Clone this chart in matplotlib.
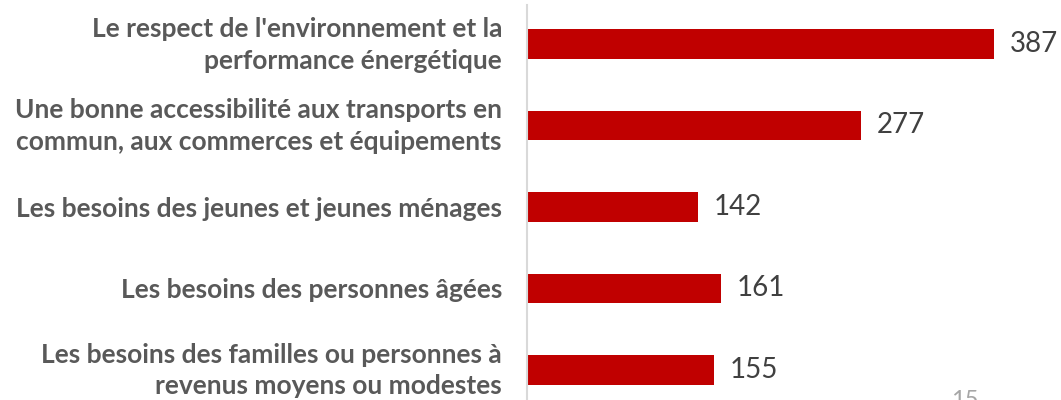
import matplotlib.pyplot as plt
from matplotlib.transforms import ScaledTranslation

categories = [
    "Le respect de l'environnement et la\nperformance énergétique",
    "Une bonne accessibilité aux transports en\ncommun, aux commerces et équipements",
    "Les besoins des jeunes et jeunes ménages",
    "Les besoins des personnes âgées",
    "Les besoins des familles ou personnes à\nrevenus moyens ou modestes",
]
values = [387, 277, 142, 161, 155]

plt.rcParams['font.family'] = ['Lato', 'DejaVu Sans']

fig = plt.figure(figsize=(10.61, 4.0), dpi=100)
ax = fig.add_axes([527 / 1061, 0.0, 534 / 1061, 395 / 400])

pos = list(range(len(values)))
ax.barh(pos, values, height=0.36, color='#C00000')

for p, v in zip(pos, values):
    ax.text(v + 13, p, str(v), va='center', ha='left', fontsize=20, color='#404040')

ax.set_xlim(0, 534 / 1.207)
ax.set_ylim(4.37, -0.478)

ax.set_yticks(pos)
ax.set_yticklabels(categories, fontsize=19, fontweight='bold', color='#595959',
                   linespacing=1.38)
ax.tick_params(axis='y', length=0, pad=18)
ax.set_xticks([])

# two-line labels sit a little high in the original
for lab in ax.get_yticklabels():
    if '\n' in lab.get_text():
        lab.set_transform(lab.get_transform() + ScaledTranslation(0, 5 / 100, fig.dpi_scale_trans))

for s in ['top', 'right', 'bottom']:
    ax.spines[s].set_visible(False)
ax.spines['left'].set_color('#D9D9D9')
ax.spines['left'].set_linewidth(1.5)

# page number, cut off at the bottom edge
fig.text(965 / 1061, 10 / 400, "15", ha='center', va='top', fontsize=17, color='#A6A6A6')

fig.savefig('out.png', dpi=100)
